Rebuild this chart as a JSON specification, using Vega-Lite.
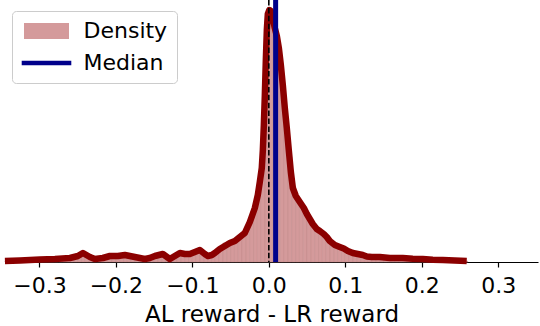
{
  "$schema": "https://vega.github.io/schema/vega-lite/v6.json",
  "width": 533,
  "height": 262,
  "autosize": {"type": "none"},
  "padding": {"left": 5, "top": 0, "right": 2, "bottom": 64},
  "background": "white",
  "config": {
    "view": {"stroke": null},
    "font": "DejaVu Sans",
    "axis": {
      "grid": false,
      "domainColor": "black",
      "domainWidth": 1.2,
      "tickColor": "black",
      "tickSize": 5,
      "tickWidth": 1.2,
      "labelFontSize": 22,
      "labelColor": "black",
      "labelFont": "DejaVu Sans",
      "labelPadding": 8,
      "labelFlush": false,
      "titleFontSize": 23,
      "titleFontWeight": "normal",
      "titleColor": "black",
      "titleFont": "DejaVu Sans",
      "titlePadding": 7
    }
  },
  "datasets": {
    "hist": [
      {"a": -0.345, "b": -0.340, "h": 0.1},
      {"a": -0.340, "b": -0.335, "h": 0.12},
      {"a": -0.335, "b": -0.330, "h": 0.15},
      {"a": -0.330, "b": -0.325, "h": 0.15},
      {"a": -0.325, "b": -0.320, "h": 0.15},
      {"a": -0.320, "b": -0.315, "h": 0.2},
      {"a": -0.315, "b": -0.310, "h": 0.2},
      {"a": -0.310, "b": -0.305, "h": 0.2},
      {"a": -0.305, "b": -0.300, "h": 0.25},
      {"a": -0.300, "b": -0.295, "h": 0.25},
      {"a": -0.295, "b": -0.290, "h": 0.25},
      {"a": -0.290, "b": -0.285, "h": 0.3},
      {"a": -0.285, "b": -0.280, "h": 0.3},
      {"a": -0.280, "b": -0.275, "h": 0.3},
      {"a": -0.275, "b": -0.270, "h": 0.35},
      {"a": -0.270, "b": -0.265, "h": 0.35},
      {"a": -0.265, "b": -0.260, "h": 0.4},
      {"a": -0.260, "b": -0.255, "h": 0.4},
      {"a": -0.255, "b": -0.250, "h": 0.5},
      {"a": -0.250, "b": -0.245, "h": 0.7},
      {"a": -0.245, "b": -0.240, "h": 0.9},
      {"a": -0.240, "b": -0.235, "h": 0.8},
      {"a": -0.235, "b": -0.230, "h": 0.5},
      {"a": -0.230, "b": -0.225, "h": 0.35},
      {"a": -0.225, "b": -0.220, "h": 0.3},
      {"a": -0.220, "b": -0.215, "h": 0.4},
      {"a": -0.215, "b": -0.210, "h": 0.45},
      {"a": -0.210, "b": -0.205, "h": 0.55},
      {"a": -0.205, "b": -0.200, "h": 0.6},
      {"a": -0.200, "b": -0.195, "h": 0.6},
      {"a": -0.195, "b": -0.190, "h": 0.6},
      {"a": -0.190, "b": -0.185, "h": 0.7},
      {"a": -0.185, "b": -0.180, "h": 0.65},
      {"a": -0.180, "b": -0.175, "h": 0.6},
      {"a": -0.175, "b": -0.170, "h": 0.5},
      {"a": -0.170, "b": -0.165, "h": 0.4},
      {"a": -0.165, "b": -0.160, "h": 0.3},
      {"a": -0.160, "b": -0.155, "h": 0.3},
      {"a": -0.155, "b": -0.150, "h": 0.4},
      {"a": -0.150, "b": -0.145, "h": 0.6},
      {"a": -0.145, "b": -0.140, "h": 0.7},
      {"a": -0.140, "b": -0.135, "h": 0.8},
      {"a": -0.135, "b": -0.130, "h": 0.6},
      {"a": -0.130, "b": -0.125, "h": 0.35},
      {"a": -0.125, "b": -0.120, "h": 0.5},
      {"a": -0.120, "b": -0.115, "h": 0.8},
      {"a": -0.115, "b": -0.110, "h": 0.9},
      {"a": -0.110, "b": -0.105, "h": 0.8},
      {"a": -0.105, "b": -0.100, "h": 0.8},
      {"a": -0.100, "b": -0.095, "h": 0.9},
      {"a": -0.095, "b": -0.090, "h": 1.05},
      {"a": -0.090, "b": -0.085, "h": 1.2},
      {"a": -0.085, "b": -0.080, "h": 0.9},
      {"a": -0.080, "b": -0.075, "h": 0.65},
      {"a": -0.075, "b": -0.070, "h": 0.7},
      {"a": -0.070, "b": -0.065, "h": 0.9},
      {"a": -0.065, "b": -0.060, "h": 1.5},
      {"a": -0.060, "b": -0.055, "h": 1.9},
      {"a": -0.055, "b": -0.050, "h": 1.8},
      {"a": -0.050, "b": -0.045, "h": 2.0},
      {"a": -0.045, "b": -0.040, "h": 2.2},
      {"a": -0.040, "b": -0.035, "h": 2.6},
      {"a": -0.035, "b": -0.030, "h": 2.8},
      {"a": -0.030, "b": -0.025, "h": 3.3},
      {"a": -0.025, "b": -0.020, "h": 4.3},
      {"a": -0.020, "b": -0.015, "h": 5.6},
      {"a": -0.015, "b": -0.010, "h": 7.2},
      {"a": -0.010, "b": -0.005, "h": 10.5},
      {"a": -0.005, "b": 0.000, "h": 19.0},
      {"a": 0.000, "b": 0.005, "h": 25.0},
      {"a": 0.005, "b": 0.010, "h": 23.5},
      {"a": 0.010, "b": 0.015, "h": 21.5},
      {"a": 0.015, "b": 0.020, "h": 18.5},
      {"a": 0.020, "b": 0.025, "h": 14.5},
      {"a": 0.025, "b": 0.030, "h": 10.5},
      {"a": 0.030, "b": 0.035, "h": 7.6},
      {"a": 0.035, "b": 0.040, "h": 6.5},
      {"a": 0.040, "b": 0.045, "h": 5.9},
      {"a": 0.045, "b": 0.050, "h": 5.2},
      {"a": 0.050, "b": 0.055, "h": 4.6},
      {"a": 0.055, "b": 0.060, "h": 4.0},
      {"a": 0.060, "b": 0.065, "h": 3.5},
      {"a": 0.065, "b": 0.070, "h": 3.2},
      {"a": 0.070, "b": 0.075, "h": 2.9},
      {"a": 0.075, "b": 0.080, "h": 2.5},
      {"a": 0.080, "b": 0.085, "h": 2.1},
      {"a": 0.085, "b": 0.090, "h": 1.8},
      {"a": 0.090, "b": 0.095, "h": 1.55},
      {"a": 0.095, "b": 0.100, "h": 1.4},
      {"a": 0.100, "b": 0.105, "h": 1.2},
      {"a": 0.105, "b": 0.110, "h": 1.0},
      {"a": 0.110, "b": 0.115, "h": 0.9},
      {"a": 0.115, "b": 0.120, "h": 0.8},
      {"a": 0.120, "b": 0.125, "h": 0.7},
      {"a": 0.125, "b": 0.130, "h": 0.6},
      {"a": 0.130, "b": 0.135, "h": 0.5},
      {"a": 0.135, "b": 0.140, "h": 0.5},
      {"a": 0.140, "b": 0.145, "h": 0.5},
      {"a": 0.145, "b": 0.150, "h": 0.5},
      {"a": 0.150, "b": 0.155, "h": 0.45},
      {"a": 0.155, "b": 0.160, "h": 0.42},
      {"a": 0.160, "b": 0.165, "h": 0.4},
      {"a": 0.165, "b": 0.170, "h": 0.4},
      {"a": 0.170, "b": 0.175, "h": 0.4},
      {"a": 0.175, "b": 0.180, "h": 0.38},
      {"a": 0.180, "b": 0.185, "h": 0.35},
      {"a": 0.185, "b": 0.190, "h": 0.33},
      {"a": 0.190, "b": 0.195, "h": 0.32},
      {"a": 0.195, "b": 0.200, "h": 0.3},
      {"a": 0.200, "b": 0.205, "h": 0.3},
      {"a": 0.205, "b": 0.210, "h": 0.26},
      {"a": 0.210, "b": 0.215, "h": 0.24},
      {"a": 0.215, "b": 0.220, "h": 0.22},
      {"a": 0.220, "b": 0.225, "h": 0.2},
      {"a": 0.225, "b": 0.230, "h": 0.2},
      {"a": 0.230, "b": 0.235, "h": 0.18},
      {"a": 0.235, "b": 0.240, "h": 0.16},
      {"a": 0.240, "b": 0.245, "h": 0.15},
      {"a": 0.245, "b": 0.250, "h": 0.13},
      {"a": 0.250, "b": 0.255, "h": 0.12},
      {"a": 0.255, "b": 0.260, "h": 0.1}
    ],
    "kde": [
      {"x": -0.3451, "d": 0.1},
      {"x": -0.3255, "d": 0.15},
      {"x": -0.2993, "d": 0.25},
      {"x": -0.2797, "d": 0.3},
      {"x": -0.2601, "d": 0.4},
      {"x": -0.2497, "d": 0.6},
      {"x": -0.2431, "d": 0.9},
      {"x": -0.2340, "d": 0.5},
      {"x": -0.2275, "d": 0.3},
      {"x": -0.2170, "d": 0.4},
      {"x": -0.2078, "d": 0.6},
      {"x": -0.1974, "d": 0.6},
      {"x": -0.1882, "d": 0.7},
      {"x": -0.1752, "d": 0.5},
      {"x": -0.1621, "d": 0.3},
      {"x": -0.1556, "d": 0.4},
      {"x": -0.1490, "d": 0.6},
      {"x": -0.1386, "d": 0.8},
      {"x": -0.1294, "d": 0.3},
      {"x": -0.1229, "d": 0.6},
      {"x": -0.1163, "d": 0.9},
      {"x": -0.1098, "d": 0.8},
      {"x": -0.1033, "d": 0.8},
      {"x": -0.0967, "d": 1.0},
      {"x": -0.0902, "d": 1.2},
      {"x": -0.0837, "d": 0.8},
      {"x": -0.0797, "d": 0.6},
      {"x": -0.0745, "d": 0.7},
      {"x": -0.0706, "d": 0.9},
      {"x": -0.0641, "d": 1.3},
      {"x": -0.0575, "d": 1.6},
      {"x": -0.0510, "d": 1.9},
      {"x": -0.0444, "d": 2.1},
      {"x": -0.0379, "d": 2.5},
      {"x": -0.0314, "d": 2.9},
      {"x": -0.0248, "d": 4.0},
      {"x": -0.0183, "d": 5.4},
      {"x": -0.0144, "d": 6.7},
      {"x": -0.0118, "d": 8.0},
      {"x": -0.0092, "d": 9.4},
      {"x": -0.0078, "d": 11.2},
      {"x": -0.0065, "d": 13.7},
      {"x": -0.0052, "d": 16.7},
      {"x": -0.0039, "d": 20.2},
      {"x": -0.0026, "d": 23.2},
      {"x": -0.0013, "d": 24.8},
      {"x": 0.0007, "d": 25.2},
      {"x": 0.0026, "d": 25.1},
      {"x": 0.0052, "d": 24.4},
      {"x": 0.0078, "d": 23.4},
      {"x": 0.0105, "d": 22.6},
      {"x": 0.0131, "d": 21.4},
      {"x": 0.0157, "d": 19.7},
      {"x": 0.0183, "d": 17.7},
      {"x": 0.0209, "d": 15.4},
      {"x": 0.0235, "d": 13.4},
      {"x": 0.0261, "d": 11.2},
      {"x": 0.0288, "d": 9.0},
      {"x": 0.0314, "d": 7.4},
      {"x": 0.0353, "d": 6.6},
      {"x": 0.0405, "d": 6.0},
      {"x": 0.0458, "d": 5.4},
      {"x": 0.0497, "d": 4.8},
      {"x": 0.0536, "d": 4.3},
      {"x": 0.0575, "d": 3.8},
      {"x": 0.0627, "d": 3.3},
      {"x": 0.0667, "d": 3.1},
      {"x": 0.0719, "d": 2.8},
      {"x": 0.0758, "d": 2.5},
      {"x": 0.0797, "d": 2.1},
      {"x": 0.0863, "d": 1.7},
      {"x": 0.0928, "d": 1.5},
      {"x": 0.0980, "d": 1.35},
      {"x": 0.1033, "d": 1.1},
      {"x": 0.1098, "d": 0.9},
      {"x": 0.1163, "d": 0.8},
      {"x": 0.1229, "d": 0.7},
      {"x": 0.1281, "d": 0.55},
      {"x": 0.1346, "d": 0.5},
      {"x": 0.1451, "d": 0.5},
      {"x": 0.1582, "d": 0.4},
      {"x": 0.1752, "d": 0.4},
      {"x": 0.1882, "d": 0.33},
      {"x": 0.2013, "d": 0.3},
      {"x": 0.2144, "d": 0.23},
      {"x": 0.2275, "d": 0.2},
      {"x": 0.2431, "d": 0.15},
      {"x": 0.2588, "d": 0.1}
    ],
    "refs": [
      {"x": 0.0, "series": "Zero"},
      {"x": 0.0089, "series": "Median"}
    ]
  },
  "layer": [
    {
      "data": {"name": "hist"},
      "mark": {"type": "rect", "fill": "#d49a9b", "stroke": "#c28889", "strokeWidth": 0.5},
      "encoding": {
        "x": {
          "field": "a", "type": "quantitative",
          "scale": {"domain": [-0.345, 0.352], "nice": false, "zero": false},
          "axis": {
            "values": [-0.3, -0.2, -0.1, 0, 0.1, 0.2, 0.3],
            "labelExpr": "datum.value < 0 ? '\u2212' + format(-datum.value, '.1f') : format(datum.value, '.1f')",
            "title": "AL reward - LR reward"
          }
        },
        "x2": {"field": "b"},
        "y": {
          "field": "h", "type": "quantitative",
          "scale": {"domain": [0, 26.2], "nice": false},
          "axis": null
        },
        "y2": {"datum": 0}
      }
    },
    {
      "data": {"name": "kde"},
      "mark": {"type": "line", "color": "#8b0000", "strokeWidth": 6.5, "strokeJoin": "round", "strokeCap": "butt"},
      "encoding": {
        "x": {"field": "x", "type": "quantitative"},
        "y": {"field": "d", "type": "quantitative"}
      }
    },
    {
      "data": {"name": "refs"},
      "transform": [{"filter": "datum.series === 'Zero'"}],
      "mark": {"type": "rule", "color": "black", "strokeWidth": 1.6, "strokeDash": [5.5, 2.4]},
      "encoding": {
        "x": {"field": "x", "type": "quantitative"}
      }
    },
    {
      "data": {"name": "refs"},
      "transform": [{"filter": "datum.series === 'Median'"}],
      "mark": {"type": "rule", "strokeWidth": 5},
      "encoding": {
        "x": {"field": "x", "type": "quantitative"},
        "color": {
          "field": "series", "type": "nominal",
          "scale": {"domain": ["Density", "Median"], "range": ["#d49a9b", "#00008b"]},
          "legend": {
            "title": null,
            "orient": "none",
            "legendX": 7,
            "legendY": 11,
            "labelFontSize": 22,
            "labelColor": "black",
            "labelFont": "DejaVu Sans",
            "symbolSize": 256,
            "symbolOffset": 14.5,
            "labelOffset": 26,
            "strokeColor": "#cccccc",
            "cornerRadius": 4,
            "padding": 9,
            "fillColor": "white",
            "rowPadding": 10,
            "encode": {
              "symbols": {
                "update": {
                  "shape": {"signal": "datum.value === 'Density' ? 'M-2.8125,-1H2.8125V1H-2.8125Z' : 'M-3.1,0H3.1'"},
                  "fill": {"signal": "datum.value === 'Density' ? '#d49a9b' : 'transparent'"},
                  "stroke": {"signal": "datum.value === 'Density' ? '#d49a9b' : '#00008b'"},
                  "strokeWidth": {"signal": "datum.value === 'Density' ? 0 : 4.5"},
                  "opacity": {"value": 1},
                  "fillOpacity": {"value": 1},
                  "strokeOpacity": {"value": 1}
                }
              }
            }
          }
        }
      }
    }
  ]
}
